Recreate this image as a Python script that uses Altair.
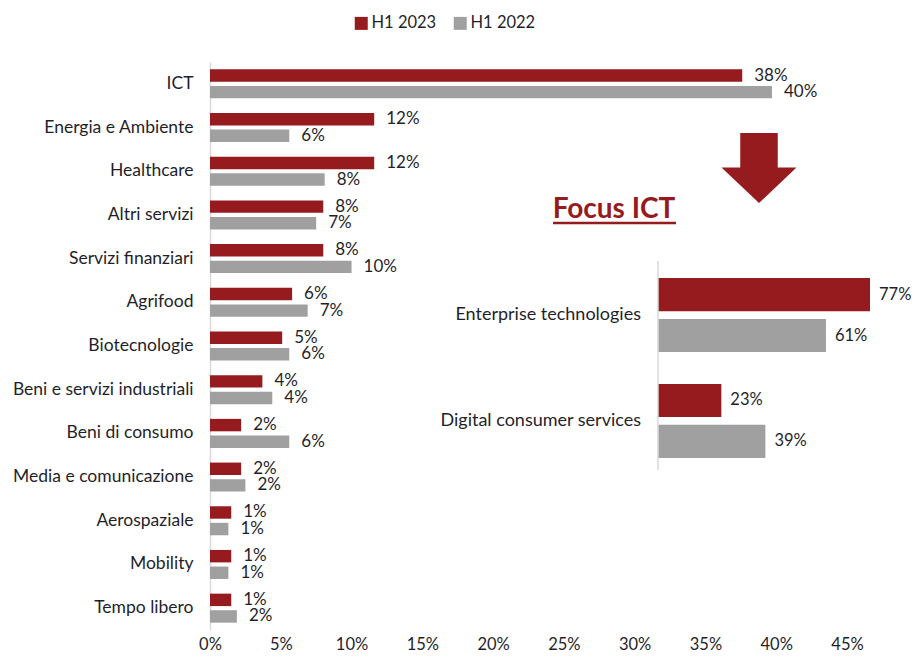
import altair as alt
import pandas as pd

# ---------------- data ----------------
categories = ["ICT", "Energia e Ambiente", "Healthcare", "Altri servizi",
              "Servizi finanziari", "Agrifood", "Biotecnologie",
              "Beni e servizi industriali", "Beni di consumo",
              "Media e comunicazione", "Aerospaziale", "Mobility", "Tempo libero"]
values_2023 = [37.6, 11.6, 11.6, 8.0, 8.0, 5.8, 5.1, 3.7, 2.2, 2.2, 1.5, 1.5, 1.5]
values_2022 = [39.7, 5.6, 8.1, 7.5, 10.0, 6.9, 5.6, 4.4, 5.6, 2.5, 1.3, 1.3, 1.9]
labels_2023 = ["38%", "12%", "12%", "8%", "8%", "6%", "5%", "4%", "2%", "2%", "1%", "1%", "1%"]
labels_2022 = ["40%", "6%", "8%", "7%", "10%", "7%", "6%", "4%", "6%", "2%", "1%", "1%", "2%"]
series = ["H1 2023", "H1 2022"]
x_ticks = [0, 0.05, 0.10, 0.15, 0.20, 0.25, 0.30, 0.35, 0.40, 0.45]

ict_categories = ["Enterprise technologies", "Digital consumer services"]
ict_2023 = [77, 23]
ict_2022 = [61, 39]
ict_labels_2023 = ["77%", "23%"]
ict_labels_2022 = ["61%", "39%"]

RED = "#951B1E"
GREY = "#A0A0A0"
TXT = "#1f1f2b"
FONT = "Lato"

main_rows = []
for c, v23, v22, l23, l22 in zip(categories, values_2023, values_2022, labels_2023, labels_2022):
    main_rows.append({"cat": c, "series": series[0], "val": v23 / 100, "lab": l23})
    main_rows.append({"cat": c, "series": series[1], "val": v22 / 100, "lab": l22})
main_df = pd.DataFrame(main_rows)

ict_rows = []
for c, v23, v22, l23, l22 in zip(ict_categories, ict_2023, ict_2022, ict_labels_2023, ict_labels_2022):
    ict_rows.append({"icat": c, "iseries": series[0], "ival": v23 / 100, "ilab": l23})
    ict_rows.append({"icat": c, "iseries": series[1], "ival": v22 / 100, "ilab": l22})
ict_df = pd.DataFrame(ict_rows)

W, H = 637, 568

color_scale = alt.Scale(domain=series, range=[RED, GREY])

# ---------------- main chart ----------------
x_main = alt.X("val:Q", scale=alt.Scale(domain=[0, 0.45], nice=False),
               axis=alt.Axis(values=x_ticks, format=".0%", title=None, domain=False,
                             ticks=False, grid=False, labelPadding=6, labelFontSize=16.5,
                             labelFlush=False, labelFont=FONT, labelColor=TXT))
y_main = alt.Y("cat:N", sort=categories,
               scale=alt.Scale(paddingInner=0.336, paddingOuter=0.168),
               axis=alt.Axis(title=None, ticks=False, domain=True, domainColor="#d9d9d9",
                             domainWidth=1.5, labelPadding=17, labelFontSize=17.5,
                             labelLimit=400, labelFont=FONT, labelColor=TXT, grid=False))
yoff_main = alt.YOffset("series:N", sort=series, scale=alt.Scale(paddingInner=0.25))

bars = alt.Chart(main_df).mark_bar().encode(
    x=x_main, y=y_main, yOffset=yoff_main,
    color=alt.Color("series:N", scale=color_scale, sort=series,
                    legend=alt.Legend(title=None, orient="none", direction="horizontal",
                                      legendX=143, legendY=-47, symbolType="square",
                                      symbolSize=169, symbolStrokeWidth=0,
                                      labelFontSize=16.5, labelFont=FONT, labelColor=TXT,
                                      labelOffset=2, columnPadding=15, padding=0)),
)
bar_labels = alt.Chart(main_df).mark_text(align="left", baseline="middle", dx=12,
                                          fontSize=17, font=FONT, color=TXT).encode(
    x="val:Q", y=alt.Y("cat:N", sort=categories), yOffset=alt.YOffset("series:N", sort=series),
    text="lab:N",
)
main = alt.layer(bars, bar_labels)

# ---------------- inset (Focus ICT) ----------------
x_in = alt.X("ival:Q", scale=alt.Scale(domain=[0, 0.77], range=[448, 660], nice=False, zero=True),
             axis=None)
y_in = alt.Y("icat:N", sort=ict_categories,
             scale=alt.Scale(range=[216, 396], paddingInner=0.3, paddingOuter=0), axis=None)
yoff_in = alt.YOffset("iseries:N", sort=series, scale=alt.Scale(paddingInner=0.19))

ibars = alt.Chart(ict_df).mark_bar().encode(
    x=x_in, y=y_in, yOffset=yoff_in,
    color=alt.Color("iseries:N", scale=color_scale, sort=series, legend=None),
)
ilabels = alt.Chart(ict_df).mark_text(align="left", baseline="middle", dx=9,
                                      fontSize=16.5, font=FONT, color=TXT).encode(
    x="ival:Q", y=alt.Y("icat:N", sort=ict_categories),
    yOffset=alt.YOffset("iseries:N", sort=series), text="ilab:N",
)
icat_df = pd.DataFrame({"icat": ict_categories})
icatlabels = alt.Chart(icat_df).mark_text(align="right", baseline="middle", fontSize=18,
                                          font=FONT, color=TXT).encode(
    x=alt.value(431), y=alt.Y("icat:N", sort=ict_categories), text="icat:N",
)
inset = alt.layer(ibars, ilabels, icatlabels)

iaxis = alt.Chart(pd.DataFrame({"a": [0]})).mark_rule(color="#d9d9d9", strokeWidth=1.5).encode(
    x=alt.value(448), y=alt.value(199), y2=alt.value(408))

title_df = pd.DataFrame({"t": ["Focus ICT"]})
focus_title = alt.Chart(title_df).mark_text(align="center", baseline="alphabetic", fontSize=28,
                                            fontWeight="bold", font=FONT, color=RED).encode(
    x=alt.value(404), y=alt.value(156), text="t:N")
underline = alt.Chart(title_df).mark_rule(color=RED, strokeWidth=2.5).encode(
    x=alt.value(343), x2=alt.value(466), y=alt.value(161))

ARROW = "M -0.5 -0.933 L 0.5 -0.933 L 0.5 -0.016 L 1 -0.016 L 0 0.933 L -1 -0.016 L -0.5 -0.016 Z"
arrow = alt.Chart(title_df).mark_point(shape=ARROW, filled=True, size=5625, color=RED,
                                       opacity=1, strokeWidth=0).encode(
    x=alt.value(549), y=alt.value(106))

chart = alt.layer(main, inset, iaxis, focus_title, underline, arrow).resolve_scale(
    x="independent", y="independent", yOffset="independent", color="shared"
).properties(
    width=W, height=H,
    padding={"left": 202, "top": 54, "right": 66, "bottom": 24},
    autosize=alt.AutoSizeParams(type="none"),
).configure_view(strokeWidth=0)

chart.save("out.html", embed_options={"renderer": "svg", "actions": False})
